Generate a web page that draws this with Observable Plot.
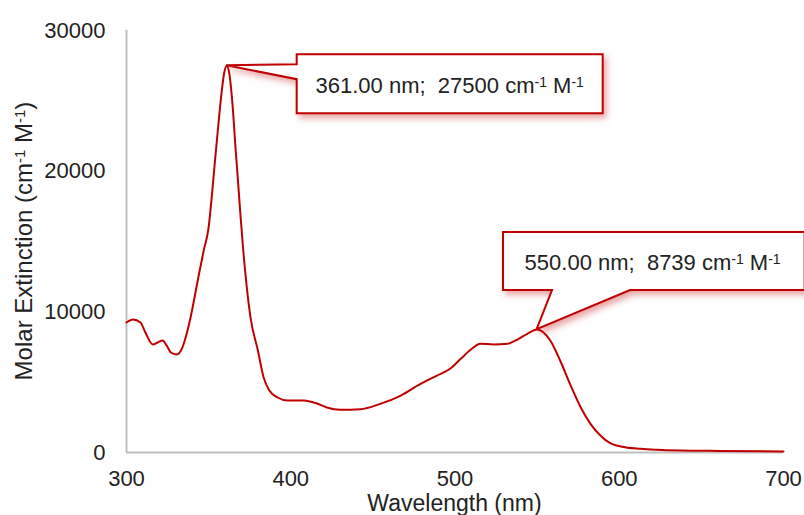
<!DOCTYPE html>
<html>
<head>
<meta charset="utf-8">
<script src="https://cdn.jsdelivr.net/npm/d3@7"></script>
<script src="https://cdn.jsdelivr.net/npm/@observablehq/plot@0.6"></script>
<style>
  html, body { margin: 0; padding: 0; background: #fff; overflow: hidden; }
</style>
</head>
<body>
<div id="chart"></div>
<script>
// ---- data ----
const wavelength = [300, 304, 308.5, 311.5, 316, 319, 322, 324.5, 327, 330.5, 334, 336, 339, 343, 344.5, 347, 350, 352, 354, 356, 358, 359.5, 361, 362.5, 364.5, 366.5, 368, 369.5, 371, 373, 375.5, 380, 383.5, 387, 392, 398, 408, 416, 422, 430, 442.5, 454.5, 467, 479, 489, 497, 503.5, 509.5, 515.5, 523.5, 532, 538, 544, 550, 558, 564, 570, 576.5, 582.5, 588.5, 594.5, 601, 613, 623, 637, 662, 700];
const extinction = [9240, 9450, 9240, 8530, 7680, 7820, 7960, 7600, 7110, 6970, 7460, 8170, 9600, 12000, 12900, 14350, 16000, 18300, 20900, 23400, 25700, 27000, 27500, 27000, 24800, 21450, 19100, 16700, 14500, 12000, 9600, 7250, 5330, 4400, 3910, 3700, 3700, 3480, 3200, 3040, 3080, 3460, 4050, 4880, 5470, 5950, 6660, 7300, 7730, 7680, 7730, 8030, 8440, 8739, 7960, 6540, 4880, 3220, 2040, 1210, 660, 430, 260, 190, 140, 110, 70];
const peakWavelength = [361, 550];
const peakExtinction = [27500, 8739];
const xTicks = [300, 400, 500, 600, 700];
const yTicks = [0, 10000, 20000, 30000];
const xTitle = "Wavelength (nm)";
const yTitleMain = "Molar Extinction (cm";
const unitText = "-1";

const spectrum = wavelength.map((w, i) => ({w, e: extinction[i]}));

// ---- style constants ----
const RED = "#c00000";
const TEXT = "#222";
const FONT = "'Liberation Sans', Arial, sans-serif";
const FS = 22;

// callout geometry in pixels relative to the peak anchor (style, not data)
const calloutShapes = [
  { poly: [[70.5,-11],[376.5,-11],[376.5,48],[70.5,48],[70.5,14],[0,0],[70.5,-1]], tx: 223.5, ty: 28 },
  { poly: [[-33.6,-97],[268,-97],[268,-39],[93.4,-39],[0,0],[15.4,-39],[-33.6,-39]], tx: 116, ty: -59 }
];

function addUnits(textSel, parts, fs) {
  for (const [s, sup] of parts) {
    const t = textSel.append("tspan").text(s);
    if (sup) t.attr("font-size", Math.round(fs * 0.62)).attr("baseline-shift", "45%");
  }
}

function calloutMark(index, scales, values, dimensions) {
  const g = d3.create("svg:g");
  const defs = g.append("defs");
  const f = defs.append("filter").attr("id", "cshadow")
    .attr("x", "-20%").attr("y", "-30%").attr("width", "150%").attr("height", "180%");
  f.append("feDropShadow").attr("dx", 3).attr("dy", 4).attr("stdDeviation", 3)
    .attr("flood-color", RED).attr("flood-opacity", 0.35);
  peakWavelength.forEach((w, i) => {
    const ax = scales.x(w), ay = scales.y(peakExtinction[i]);
    const shape = calloutShapes[i];
    const pts = shape.poly.map(([dx, dy]) => [ax + dx, ay + dy]);
    g.append("path")
      .attr("d", "M" + pts.map(p => p.join(",")).join("L") + "Z")
      .attr("fill", "#fff").attr("stroke", RED).attr("stroke-width", 2)
      .attr("stroke-linejoin", "miter")
      .attr("filter", "url(#cshadow)");
    const t = g.append("text")
      .attr("x", ax + shape.tx).attr("y", ay + shape.ty)
      .attr("text-anchor", "middle").attr("fill", TEXT)
      .attr("font-family", FONT).attr("font-size", FS);
    addUnits(t, [[`${w.toFixed(2)} nm;  ${peakExtinction[i]} cm`, false], [unitText, true], [" M", false], [unitText, true]], FS);
  });
  return g.node();
}

function titlesMark(index, scales, values, dimensions) {
  const g = d3.create("svg:g").attr("font-family", FONT).attr("fill", TEXT);
  const {width, height, marginLeft, marginRight, marginTop, marginBottom} = dimensions;
  const cx = (marginLeft + width - marginRight) / 2;
  g.append("text").attr("x", cx).attr("y", height - 4).attr("font-size", 23)
    .attr("text-anchor", "middle").text(xTitle);
  const cy = (marginTop + height - marginBottom) / 2;
  const t = g.append("text")
    .attr("transform", `translate(32,${cy}) rotate(-90)`)
    .attr("font-size", 24)
    .attr("text-anchor", "middle");
  addUnits(t, [[yTitleMain, false], [unitText, true], [" M", false], [unitText, true], [")", false]], 24);
  return g.node();
}

const chart = Plot.plot({
  width: 804,
  height: 515,
  marginLeft: 126,
  marginRight: 21,
  marginTop: 30,
  marginBottom: 63,
  style: { fontFamily: FONT, fontSize: FS + "px", color: TEXT, background: "#fff", overflow: "visible" },
  x: { domain: [300, 700] },
  y: { domain: [0, 30000] },
  marks: [
    Plot.axisY({ ticks: yTicks, tickSize: 0, tickPadding: 21, tickFormat: d => String(d), label: null }),
    Plot.axisX({ ticks: xTicks, tickSize: 0, tickPadding: 18, tickFormat: d => String(d), label: null }),
    Plot.ruleX([300], { stroke: "#bfbfbf", strokeWidth: 2 }),
    Plot.ruleY([0], { stroke: "#bfbfbf", strokeWidth: 2 }),
    Plot.line(spectrum, { x: "w", y: "e", stroke: RED, strokeWidth: 2, curve: "monotone-x" }),
    calloutMark,
    titlesMark
  ]
});
document.getElementById("chart").appendChild(chart);
</script>
</body>
</html>
